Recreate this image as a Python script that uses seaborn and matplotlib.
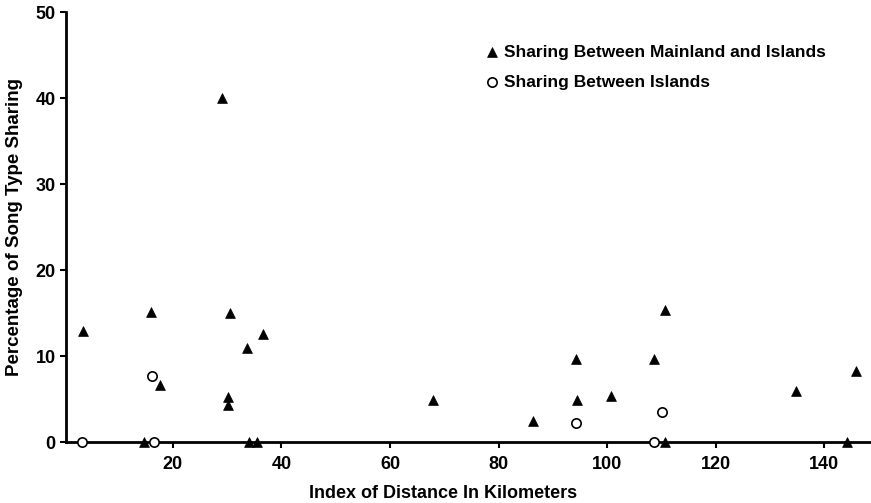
import matplotlib
matplotlib.use("Agg")
import matplotlib.pyplot as plt
import seaborn as sns
import pandas as pd

# Sharing between mainland and islands (filled triangles)
main_x = [3.4, 15.9, 30.5, 36.6, 33.6, 17.7, 30.1, 30.1, 14.6, 34.0, 35.4, 29.0,
          68.0, 86.3, 94.2, 94.4, 110.6, 108.6, 100.8, 134.9, 145.9, 110.6, 144.3]
main_y = [12.9, 15.1, 15.0, 12.6, 11.0, 6.7, 5.2, 4.3, 0.0, 0.0, 0.0, 40.0,
          4.9, 2.4, 9.7, 4.9, 15.4, 9.7, 5.4, 5.9, 8.3, 0.0, 0.0]

# Sharing between islands (open circles)
isl_x = [3.2, 16.2, 16.5, 94.2, 110.2, 108.6]
isl_y = [0.0, 7.7, 0.0, 2.2, 3.5, 0.0]

x_ticks = [20, 40, 60, 80, 100, 120, 140]
y_ticks = [0, 10, 20, 30, 40, 50]

main_df = pd.DataFrame({"dist": main_x, "pct": main_y})
isl_df = pd.DataFrame({"dist": isl_x, "pct": isl_y})

sns.set_style("ticks")
plt.rcParams['font.family'] = ['Liberation Sans', 'DejaVu Sans']
plt.rcParams['font.weight'] = 'bold'
plt.rcParams['text.color'] = 'black'

fig = plt.figure(figsize=(8.71, 5.03), dpi=100)
ax = fig.add_axes([0.0758, 0.121, 0.924, 0.855])

sns.scatterplot(data=main_df, x="dist", y="pct", marker="^", s=50, color="black",
                edgecolor="black", linewidth=0.5, label="Sharing Between Mainland and Islands",
                ax=ax, clip_on=False, zorder=3)
sns.scatterplot(data=isl_df, x="dist", y="pct", marker="o", s=45, facecolor="white",
                edgecolor="black", linewidth=1.2, label="Sharing Between Islands",
                ax=ax, clip_on=False, zorder=4)

ax.set_xlim(0.3, 148.6)
ax.set_ylim(0, 50)
ax.set_xticks(x_ticks)
ax.set_yticks(y_ticks)
ax.tick_params(axis='both', labelsize=13, width=1.5, length=4, colors='black', labelcolor='black')
ax.tick_params(axis='x', pad=6)
for lab in ax.get_xticklabels() + ax.get_yticklabels():
    lab.set_fontweight('bold')

for s in ['top', 'right']:
    ax.spines[s].set_visible(False)
for s in ['left', 'bottom']:
    ax.spines[s].set_linewidth(2)
    ax.spines[s].set_color('black')

ax.set_xlabel("Index of Distance In Kilometers", fontsize=13, fontweight='bold', color='black')
ax.xaxis.set_label_coords(0.468, -0.1)
ax.set_ylabel("Percentage of Song Type Sharing", fontsize=13.5, fontweight='bold', color='black')
ax.yaxis.set_label_coords(-0.053, 0.5)

leg = ax.legend(loc='upper left', bbox_to_anchor=(0.512, 0.94), frameon=False,
                fontsize=12.5, handletextpad=0.3, labelspacing=0.85, handlelength=0.8,
                borderaxespad=0)
for t in leg.get_texts():
    t.set_fontweight('bold')
    t.set_color('black')

fig.savefig("out.png", dpi=100)
